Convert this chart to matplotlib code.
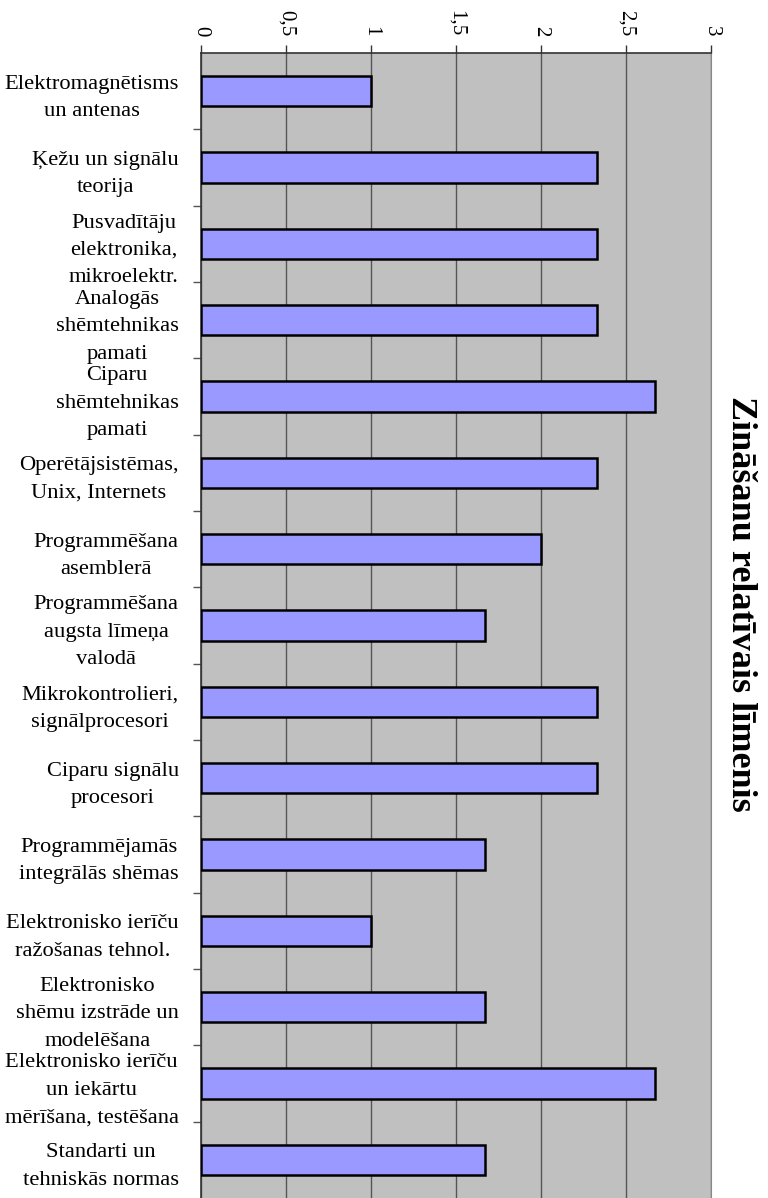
import matplotlib.pyplot as plt

plt.rcParams['font.family'] = ['Liberation Serif', 'DejaVu Serif']

# Categories (top to bottom) and their values
categories = [
    'Elektromagnētisms\nun antenas',
    'Ķežu un signālu\nteorija',
    'Pusvadītāju\nelektronika,\nmikroelektr.',
    'Analogās\nshēmtehnikas\npamati',
    'Ciparu\nshēmtehnikas\npamati',
    'Operētājsistēmas,\nUnix, Internets',
    'Programmēšana\nasemblerā',
    'Programmēšana\naugsta līmeņa\nvalodā',
    'Mikrokontrolieri,\nsignālprocesori',
    'Ciparu signālu\nprocesori',
    'Programmējamās\nintegrālās shēmas',
    'Elektronisko ierīču\nražošanas tehnol.',
    'Elektronisko\nshēmu izstrāde un\nmodelēšana',
    'Elektronisko ierīču\nun iekārtu\nmērīšana, testēšana',
    'Standarti un\ntehniskās normas',
]
values = [1.0, 2.33, 2.33, 2.33, 2.67, 2.33, 2.0, 1.67, 2.33, 2.33, 1.67, 1.0, 1.67, 2.67, 1.67]
xticks = [0, 0.5, 1, 1.5, 2, 2.5, 3]
xtick_labels = ['0', '0,5', '1', '1,5', '2', '2,5', '3']
title = 'Zināšanu relatīvais līmenis'

fig = plt.figure(figsize=(7.68, 11.98), dpi=100)
ax = fig.add_axes([201 / 768, 0.0, 510 / 768, 1 - 53 / 1198])
ax.set_facecolor('#C0C0C0')

pos = list(range(len(categories)))
ax.barh(pos, values, height=0.4, color='#9999FF', edgecolor='black', linewidth=1.8, zorder=3)

ax.set_xlim(0, 3)
ax.set_ylim(len(categories) - 0.5, -0.5)

# value axis on top, rotated labels
ax.xaxis.tick_top()
ax.set_xticks(xticks)
ax.set_xticklabels(xtick_labels, rotation=-90, fontsize=15)
ax.tick_params(axis='x', direction='out', length=6, width=1, pad=6, color='#333333')
ax.grid(axis='x', color='#555555', linewidth=1, zorder=1)

# category ticks between bars, labels at bar centers
ax.set_yticks([p + 0.5 for p in pos[:-1]])
ax.set_yticklabels([])
ax.set_yticks(pos, minor=True)
ax.set_yticklabels(categories, minor=True, fontsize=16.2, linespacing=1.6)
ax.tick_params(axis='y', which='minor', length=0, pad=16)
ax.tick_params(axis='y', which='major', direction='out', length=6, width=1, color='#555555')
for lab in ax.get_yticklabels(minor=True):
    lab.set_multialignment('center')

for side in ['left', 'top']:
    ax.spines[side].set_color('#333333')
    ax.spines[side].set_linewidth(1.2)
ax.spines['right'].set_color('#888888')
ax.spines['bottom'].set_visible(False)

fig.text(732 / 768, 1 - 604 / 1198, title, rotation=-90, rotation_mode='anchor',
         ha='center', va='baseline', fontsize=26, fontweight='bold')

fig.savefig('out.png', dpi=100)
